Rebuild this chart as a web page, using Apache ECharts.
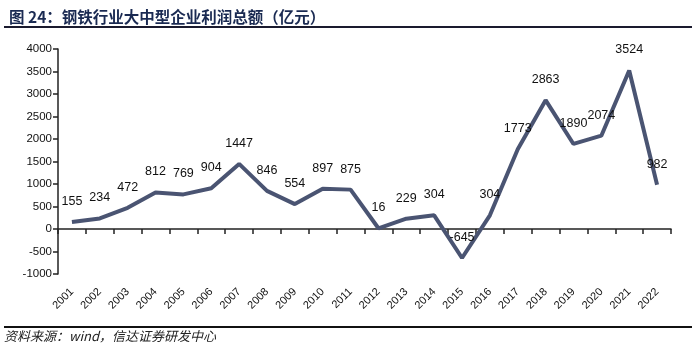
<!DOCTYPE html>
<html><head><meta charset="utf-8">
<script src="https://cdn.jsdelivr.net/npm/echarts@6/dist/echarts.min.js"></script>
<style>html,body{margin:0;padding:0;background:#fff}#c{width:700px;height:345px}</style>
</head><body><div id="c"></div>
<script>
const titleText = '图 24：钢铁行业大中型企业利润总额（亿元）';
const sourceText = '资料来源：wind，信达证券研发中心';
const years = ['2001','2002','2003','2004','2005','2006','2007','2008','2009','2010','2011','2012','2013','2014','2015','2016','2017','2018','2019','2020','2021','2022'];
const profits = [155,234,472,812,769,904,1447,846,554,897,875,16,229,304,-645,304,1773,2863,1890,2074,3524,982];
const yTicks = {min:-1000, max:4000, interval:500};

const chart = echarts.init(document.getElementById('c'), null, {renderer:'canvas'});
chart.setOption({
  animation:false,
  backgroundColor:'#fff',
  title:{text:titleText, left:4, top:4, textStyle:{fontFamily:'Noto Sans CJK SC', fontSize:15.5, fontWeight:'bold', color:'#1a2a52'}},
  graphic:[
    {type:'line', shape:{x1:4,y1:27,x2:692,y2:27}, style:{stroke:'#1a1a2e', lineWidth:2}},
    {type:'line', shape:{x1:4,y1:327,x2:692,y2:327}, style:{stroke:'#111', lineWidth:2}},
    {type:'text', left:4, top:330, style:{text:sourceText, font:'italic 13px "Noto Sans CJK SC"', fill:'#222'}}
  ],
  grid:{left:58, right:29, top:49, bottom:71, containLabel:false, outerBoundsMode:'none'},
  xAxis:{type:'category', data:years, boundaryGap:true,
    axisLine:{onZero:true, lineStyle:{color:'#222', width:1.5}},
    axisTick:{show:true, length:5, inside:false, lineStyle:{color:'#222', width:1.5}},
    axisLabel:{rotate:45, interval:0, fontFamily:'Liberation Sans', fontSize:11, color:'#111', margin:16, hideOverlap:false}
  },
  yAxis:{type:'value', min:yTicks.min, max:yTicks.max, interval:yTicks.interval,
    axisLine:{show:true, lineStyle:{color:'#222', width:1.5}},
    axisTick:{show:true, length:5, lineStyle:{color:'#222', width:1.5}},
    splitLine:{show:false},
    axisLabel:{fontFamily:'Liberation Sans', fontSize:11.5, color:'#111', margin:6, formatter:function(v){return String(v);}}
  },
  series:[{type:'line', data:profits, symbol:'circle', symbolSize:2, showSymbol:true,
    itemStyle:{color:'rgba(0,0,0,0)', borderWidth:0},
    lineStyle:{color:'#4a5472', width:4},
    label:{show:true, position:'top', distance:13, fontFamily:'Liberation Sans', fontSize:12.5, color:'#111'},
    labelLayout:{hideOverlap:false}
  }]
});
</script></body></html>
